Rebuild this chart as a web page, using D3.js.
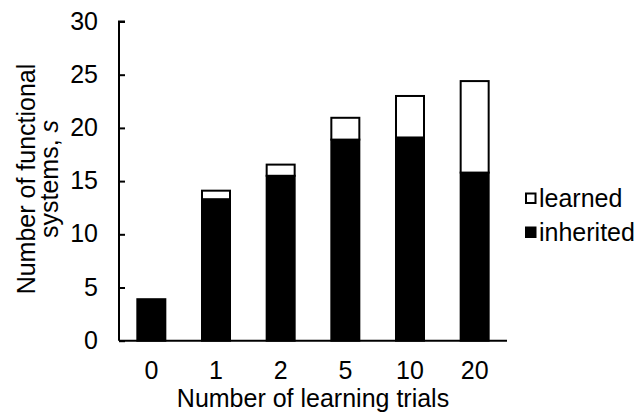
<!DOCTYPE html>
<html>
<head>
<meta charset="utf-8">
<script src="https://cdn.jsdelivr.net/npm/d3@7/dist/d3.min.js"></script>
<style>
  html, body { margin: 0; padding: 0; background: #fff; }
  svg { display: block; font-family: "Liberation Sans", Arial, sans-serif; }
</style>
</head>
<body>
<svg id="chart" width="638" height="414"></svg>
<script>
// Learning trials and the functional systems found at each
const trials = ["0", "1", "2", "5", "10", "20"];
const inherited = [3.9, 13.3, 15.5, 18.9, 19.1, 15.8];
const learned = [0, 0.8, 1.05, 2.05, 3.9, 8.6];
const yTicks = [0, 5, 10, 15, 20, 25, 30];
const seriesNames = ["learned", "inherited"];

const svg = d3.select("#chart");
const plotLeft = 119, plotRight = 507, plotTop = 21.5, plotBottom = 340.7;
const fontSize = 25;

const x = d3.scaleBand().domain(trials).range([plotLeft, plotRight])
  .paddingInner(0.567).paddingOuter(0.2835);
const y = d3.scaleLinear().domain([0, 30]).range([plotBottom, plotTop]);

const rows = trials.map((t, i) => ({ t, inherited: inherited[i], learned: learned[i] }));
const stacked = d3.stack().keys(["inherited", "learned"])(rows);
const fills = { inherited: "#000", learned: "#fff" };

// stacked bars
svg.append("g").selectAll("g").data(stacked).join("g")
  .attr("fill", d => fills[d.key])
  .selectAll("rect").data(d => d.filter(p => p[1] - p[0] > 0)).join("rect")
  .attr("x", d => x(d.data.t))
  .attr("width", x.bandwidth())
  .attr("y", d => y(d[1]))
  .attr("height", d => y(d[0]) - y(d[1]))
  .attr("stroke", "#000")
  .attr("stroke-width", 2);

// y axis, ticks pointing inward
const yAxis = svg.append("g").attr("transform", `translate(${plotLeft},0)`)
  .call(d3.axisRight(y).tickValues(yTicks).tickSize(6).tickFormat(d3.format("d")));
yAxis.select(".domain").attr("stroke", "#000").attr("stroke-width", 2)
  .attr("d", `M6,${plotTop}H0V${plotBottom}`);
yAxis.selectAll(".tick line").attr("stroke", "#000").attr("stroke-width", 2);
yAxis.selectAll(".tick text")
  .attr("x", -21).attr("dy", "0.3em").attr("text-anchor", "end")
  .attr("font-size", fontSize).attr("fill", "#000");

// x axis
const xAxis = svg.append("g").attr("transform", `translate(0,${plotBottom})`)
  .call(d3.axisBottom(x).tickSize(0));
xAxis.select(".domain").attr("stroke", "#000").attr("stroke-width", 2)
  .attr("d", `M${plotLeft},0H${plotRight}`);
xAxis.selectAll(".tick text")
  .attr("dy", 0).attr("y", 38)
  .attr("font-size", fontSize).attr("fill", "#000");

// axis titles
svg.append("text")
  .attr("x", (plotLeft + plotRight) / 2).attr("y", 407)
  .attr("text-anchor", "middle").attr("font-size", fontSize)
  .text("Number of learning trials");

const yTitle = svg.append("text")
  .attr("transform", "translate(0,179) rotate(-90)")
  .attr("text-anchor", "middle").attr("font-size", fontSize);
yTitle.append("tspan").attr("x", 0).attr("y", 35).text("Number of functional");
const line2 = yTitle.append("tspan").attr("x", 0).attr("y", 58);
line2.append("tspan").text("systems, ");
line2.append("tspan").attr("font-style", "italic").text("s");

// legend
const legend = svg.append("g").selectAll("g").data(seriesNames).join("g")
  .attr("transform", (d, i) => `translate(526,${193.5 + i * 34})`);
legend.append("rect")
  .attr("width", 9.5).attr("height", 9.5)
  .attr("fill", d => fills[d]).attr("stroke", "#000").attr("stroke-width", 2);
legend.append("text")
  .attr("x", 13).attr("y", 13)
  .attr("font-size", fontSize).text(d => d);
</script>
</body>
</html>
